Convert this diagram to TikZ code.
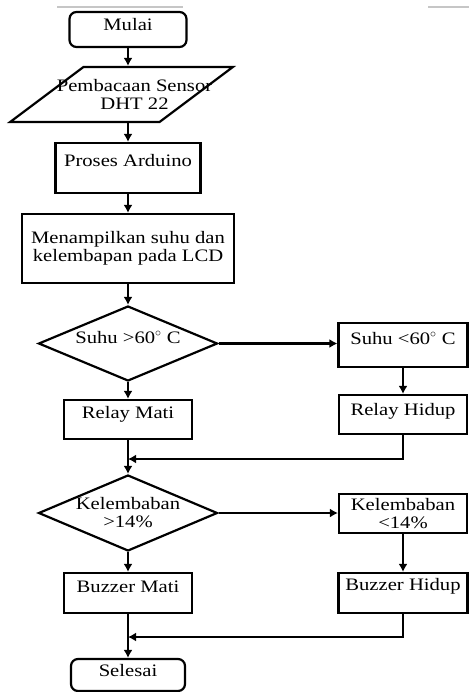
\documentclass[tikz,border=0pt]{standalone}
\usepackage{fontspec}
\setmainfont{Liberation Serif}[FakeStretch=1.18]
\usetikzlibrary{shapes.geometric,arrows.meta}

\begin{document}
\begin{tikzpicture}[
    x=1pt, y=-1pt,
    every node/.style={font=\fontsize{17.5}{18}\selectfont, inner sep=0pt},
    terminal/.style={rectangle, rounded corners=7pt, draw, line width=2.2pt},
    process/.style={rectangle, draw, line width=2.2pt},
    decision/.style={diamond, aspect=2.3, draw, line width=2.2pt},
    io/.style={trapezium, trapezium left angle=46, trapezium right angle=134,
               trapezium stretches=true, draw, line width=2.2pt, inner sep=2pt},
    tx/.style={text height=12pt, text depth=#1},
    arr/.style={draw, line width=2.2pt, -{Latex[length=8pt, width=9pt]}}
]
  \useasboundingbox (0,0) rectangle (469,692);

  % stray rules at the top
  \draw[gray!45, line width=1.5pt] (57,7) -- (183,7);
  \draw[gray!45, line width=1.5pt] (428,7) -- (469,7);

  % Main column
  \node[terminal, tx=9pt, minimum width=117pt, minimum height=35pt] (mulai) at (128,29.5) {Mulai};
  \node[io, minimum width=223pt, minimum height=55pt,
        label={[align=center, xshift=13pt]center:Pembacaan Sensor\\DHT 22}] (baca) at (121.5,94.5) {};
  \node[process, tx=14pt, minimum width=145pt, minimum height=50pt] (proses) at (128,168) {Proses Arduino};
  \node[process, align=center, minimum width=212pt, minimum height=69pt] (tampil) at (128,248.5) {Menampilkan suhu dan\\kelembapan pada LCD};
  \node[decision, tx=13pt, minimum width=179pt, minimum height=75pt] (suhu) at (128,343.5) {Suhu >60$^{\circ}$ C};
  \node[process, tx=15pt, minimum width=128pt, minimum height=39pt] (relaymati) at (128,419.5) {Relay Mati};
  \node[decision, align=center, minimum width=179pt, minimum height=76pt] (lembab) at (128,513) {Kelembaban\\>14\%};
  \node[process, tx=14pt, minimum width=128pt, minimum height=40pt] (buzzermati) at (128,593) {Buzzer Mati};
  \node[terminal, tx=10pt, minimum width=114pt, minimum height=32pt] (selesai) at (128,675) {Selesai};

  % Right column
  \node[process, tx=14pt, minimum width=129pt, minimum height=44pt] (suhukurang) at (403,345) {Suhu <60$^{\circ}$ C};
  \node[process, tx=11pt, minimum width=128pt, minimum height=39pt] (relayhidup) at (403,414.5) {Relay Hidup};
  \node[process, align=center, minimum width=128pt, minimum height=39pt] (lembabkurang) at (403,513.5) {Kelembaban\\<14\%};
  \node[process, tx=18pt, minimum width=129pt, minimum height=40pt] (buzzerhidup) at (403,593) {Buzzer Hidup};

  % Joins
  \coordinate (j1) at (128,459);
  \coordinate (j2) at (128,637);

  % Vertical flow
  \draw[arr] (mulai) -- (mulai |- baca.north);
  \draw[arr] (mulai |- baca.south) -- (proses);
  \draw[arr] (proses) -- (tampil);
  \draw[arr] (tampil) -- (suhu);
  \draw[arr] (suhu) -- (relaymati);
  \draw[arr] (relaymati) -- (lembab);
  \draw[arr] (lembab) -- (buzzermati);
  \draw[arr] (buzzermati) -- (selesai);

  % Right branches
  \draw[arr] (suhu.east) -- (suhu.east -| suhukurang.west);
  \draw[arr] (suhukurang) -- (relayhidup);
  \draw[arr] (relayhidup) |- (j1);
  \draw[arr] (lembab.east) -- (lembab.east -| lembabkurang.west);
  \draw[arr] (lembabkurang) -- (buzzerhidup);
  \draw[arr] (buzzerhidup) |- (j2);
\end{tikzpicture}
\end{document}
